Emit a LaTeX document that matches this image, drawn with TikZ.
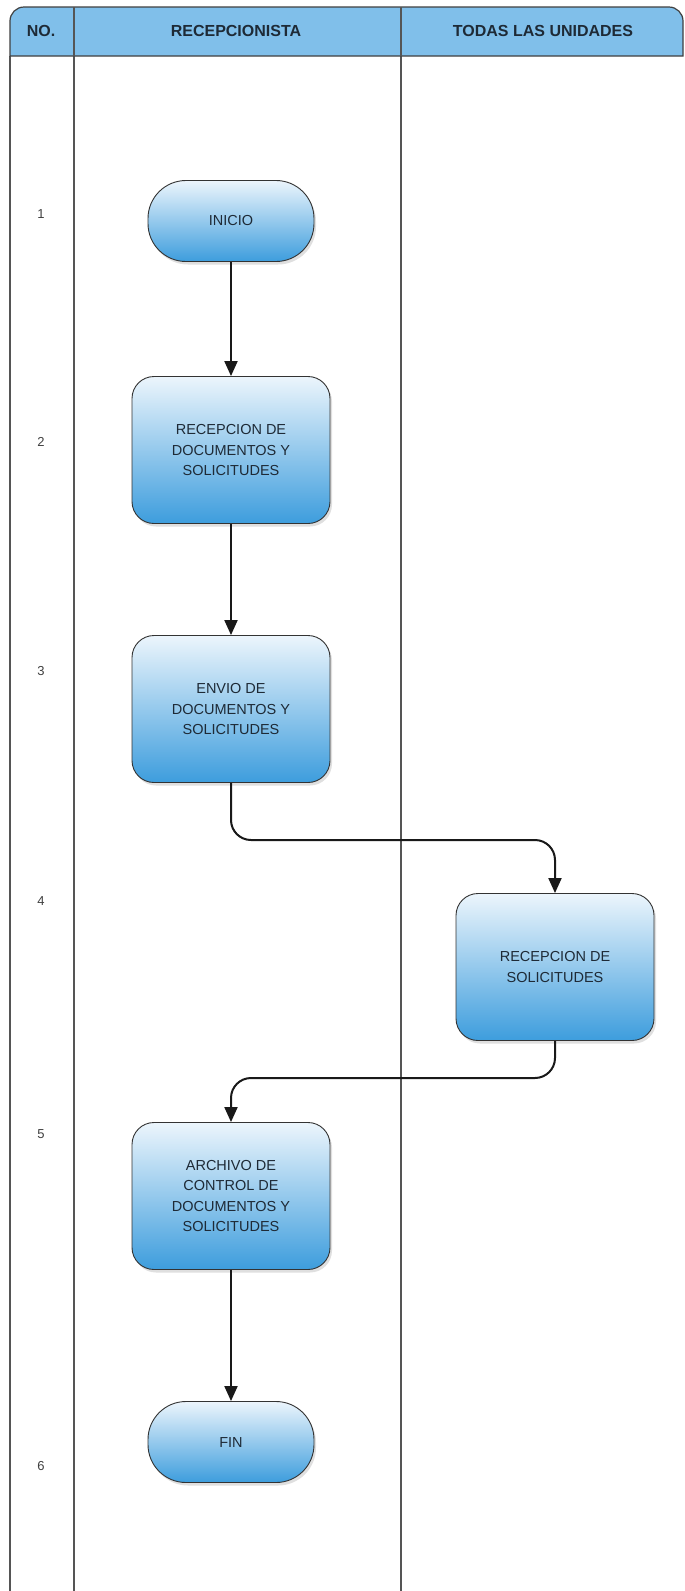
\documentclass[tikz,border=0pt]{standalone}
\usepackage{fontspec}
\setmainfont{Liberation Sans}
\usetikzlibrary{shadows,arrows.meta}
\definecolor{headblue}{HTML}{80BFEA}
\definecolor{boxtop}{HTML}{ECF5FC}
\definecolor{boxbot}{HTML}{3D9DDD}
\definecolor{txt}{HTML}{1E2A36}
\definecolor{lane}{HTML}{555555}
\tikzset{
  proc/.style={draw=black!80, line width=0.9pt, rounded corners=22pt,
    top color=boxtop, bottom color=boxbot, minimum width=198pt, minimum height=147pt,
    align=center, font=\fontsize{14.5}{20.5}\selectfont, text=txt,
    drop shadow={shadow xshift=2pt, shadow yshift=-3pt, opacity=0.25}},
  term/.style={proc, rounded corners=38pt, minimum width=166pt, minimum height=81pt},
  conn/.style={draw=black!90, line width=2pt, rounded corners=20pt,
    -{Triangle[length=15pt,width=13pt]}},
  lanel/.style={draw=lane, line width=1.5pt},
  head/.style={font=\bfseries\fontsize{16}{18}\selectfont, text=txt},
  rownum/.style={font=\fontsize{13}{15}\selectfont, text=black!75}
}
\begin{document}
\begin{tikzpicture}[x=1pt,y=-1pt]
\useasboundingbox (0,0) rectangle (685,1591);
\fill[white] (0,0) rectangle (685,1591);
% lanes
\draw[lanel] (10,56) -- (10,1591);
\draw[lanel] (74,7) -- (74,1591);
\draw[lanel] (401,7) -- (401,1591);
% header
\draw[draw=black!75, line width=1.2pt, fill=headblue]
  (10,56) -- (10,21) arc[start angle=180, end angle=270, radius=14]
  -- (669,7) arc[start angle=270, end angle=360, radius=14] -- (683,56) -- cycle;
\draw[lanel] (74,7) -- (74,56);
\draw[lanel] (401,7) -- (401,56);
\node[head] (hno) at (41,31) {NO.};
\node[head] (hrec) at (236,31) {RECEPCIONISTA};
\node[head] (htod) at (543,31) {TODAS LAS UNIDADES};
% row numbers
\node[rownum] (r1) at (41,214) {1};
\node[rownum] (r2) at (41,442) {2};
\node[rownum] (r3) at (41,671) {3};
\node[rownum] (r4) at (41,901) {4};
\node[rownum] (r5) at (41,1134) {5};
\node[rownum] (r6) at (41,1466) {6};
% nodes
\node[term] (inicio) at (231,221) {INICIO};
\node[proc] (b2) at (231,450) {RECEPCION DE\\DOCUMENTOS Y\\SOLICITUDES};
\node[proc] (b3) at (231,709) {ENVIO DE\\DOCUMENTOS Y\\SOLICITUDES};
\node[proc] (b4) at (555,967) {RECEPCION DE\\SOLICITUDES};
\node[proc] (b5) at (231,1196) {ARCHIVO DE\\CONTROL DE\\DOCUMENTOS Y\\SOLICITUDES};
\node[term] (fin) at (231,1442) {FIN};
% connectors
\draw[conn] (inicio.south) -- (b2.north);
\draw[conn] (b2.south) -- (b3.north);
\draw[conn] (b3.south) -- (b3.south |- 0,840) -- (b4.north |- 0,840) -- (b4.north);
\draw[conn] (b4.south) -- (b4.south |- 0,1078) -- (b5.north |- 0,1078) -- (b5.north);
\draw[conn] (b5.south) -- (fin.north);
\end{tikzpicture}
\end{document}
